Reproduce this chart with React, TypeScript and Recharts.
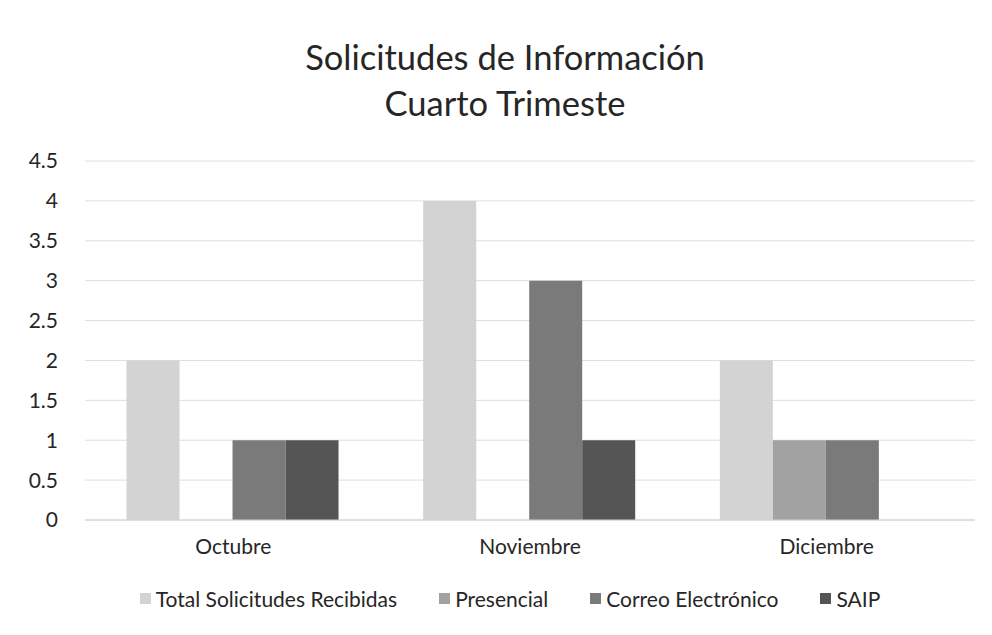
import { BarChart, Bar, XAxis, YAxis, CartesianGrid, Legend } from "recharts";

const months = ["Octubre", "Noviembre", "Diciembre"];
const totalRecibidas = [2, 4, 2];
const presencial = [0, 0, 1];
const correo = [1, 3, 1];
const saip = [1, 1, 0];
const yTicks = [0, 0.5, 1, 1.5, 2, 2.5, 3, 3.5, 4, 4.5];

const seriesKeys = ["total", "presencial", "correo", "saip"];
const seriesNames = ["Total Solicitudes Recibidas", "Presencial", "Correo Electrónico", "SAIP"];
const seriesColors = ["#d3d3d3", "#a2a2a2", "#7a7a7a", "#555555"];

const data = months.map((m, i) => ({
  month: m,
  total: totalRecibidas[i],
  presencial: presencial[i],
  correo: correo[i],
  saip: saip[i],
}));

const font = "Lato, 'Open Sans', sans-serif";

function LegendBox() {
  return (
    <div
      style={{
        display: "flex",
        justifyContent: "center",
        gap: 42,
        fontSize: 21,
        fontFamily: font,
        color: "#262626",
        paddingLeft: 28,
      }}
    >
      {seriesNames.map((n, i) => (
        <div key={n} style={{ display: "flex", alignItems: "center" }}>
          <span
            style={{
              display: "inline-block",
              width: 11,
              height: 11,
              background: seriesColors[i],
              marginRight: 5,
            }}
          />
          {n}
        </div>
      ))}
    </div>
  );
}

export default function App() {
  return (
    <div
      style={{
        position: "absolute",
        left: 0,
        top: 0,
        width: 992,
        height: 635,
        background: "#fff",
        fontFamily: font,
      }}
    >
      <div
        style={{
          position: "absolute",
          left: 0,
          top: 34,
          width: 1010,
          textAlign: "center",
          fontSize: 34.5,
          lineHeight: "46px",
          color: "#262626",
        }}
      >
        Solicitudes de Información
        <br />
        Cuarto Trimeste
      </div>
      <BarChart
        width={992}
        height={635}
        data={data}
        margin={{ top: 161, right: 17, bottom: 60, left: 0 }}
        barCategoryGap="14%"
        barGap={0}
        style={{ position: "absolute", left: 0, top: 0 }}
      >
        <CartesianGrid vertical={false} stroke="#dedede" />
        <XAxis
          dataKey="month"
          tickLine={false}
          tickSize={0}
          tickMargin={19}
          axisLine={{ stroke: "#d0d0d0" }}
          tick={{ fontSize: 21, fill: "#262626", fontFamily: font }}
        />
        <YAxis
          width={85}
          domain={[0, 4.5]}
          ticks={yTicks}
          interval={0}
          axisLine={false}
          tickLine={false}
          tickSize={0}
          tickMargin={27}
          tick={{ fontSize: 21, fill: "#262626", fontFamily: font }}
        />
        <Legend
          verticalAlign="bottom"
          content={() => <LegendBox />}
          wrapperStyle={{ top: 586, left: 0, width: 992 }}
        />
        {seriesKeys.map((k, i) => (
          <Bar key={k} dataKey={k} name={seriesNames[i]} fill={seriesColors[i]} isAnimationActive={false} />
        ))}
      </BarChart>
    </div>
  );
}
